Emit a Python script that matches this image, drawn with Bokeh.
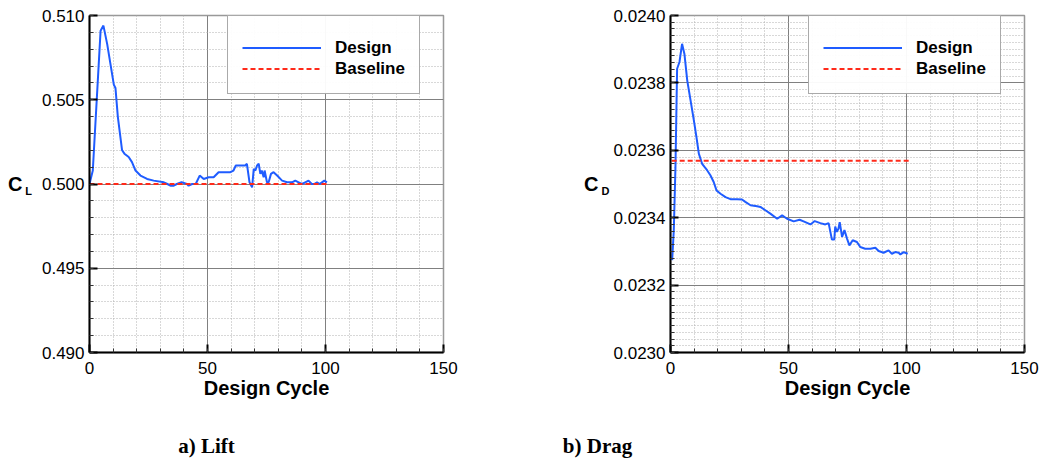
from bokeh.plotting import figure
from bokeh.models import (Range1d, FixedTicker, NumeralTickFormatter, Legend, LegendItem,
                          LinearAxis)
from bokeh.core.properties import value
from bokeh.layouts import row, column
from bokeh.embed import file_html
from bokeh.resources import INLINE

# ---------------- data ----------------
x_ticks = [0, 50, 100, 150]
x_minor = list(range(0, 151, 10))

lift_cycle = [0, 1.4, 4.7, 5.9, 7.5, 10.3, 11, 12, 13.8, 14.8, 16.6, 18, 19.5, 21.6, 24.4,
              27.2, 31.5, 33, 34.3, 35.7, 37, 39, 41.3, 42, 43.5, 45, 46.7, 48.4, 50.5,
              52.6, 54.7, 56.9, 59.7, 61, 62, 64, 66, 66.7, 67.8, 68.9, 69.6, 70.3, 71,
              71.7, 72.4, 73, 73.8, 74.2, 75.2, 75.9, 76.9, 78, 79.5, 81.6, 83.7, 85.8,
              87.2, 88.6, 90, 91.4, 92.8, 94.2, 95.2, 96.4, 97.5, 98.5, 99.5, 100.6]
cl_design = [0.5000, 0.5008, 0.5091, 0.5094, 0.5083, 0.5059, 0.5057, 0.5040, 0.5020, 0.5018,
             0.5016, 0.5013, 0.5008, 0.5005, 0.5003, 0.5002, 0.5001, 0.5000, 0.4999, 0.4999,
             0.5000, 0.5001, 0.5000, 0.4999, 0.5000, 0.5000, 0.5005, 0.5003, 0.5004, 0.5004,
             0.5007, 0.5007, 0.5007, 0.5008, 0.5011, 0.5011, 0.5011, 0.5012, 0.5001, 0.4998,
             0.5009, 0.5008, 0.5011, 0.5012, 0.5006, 0.5008, 0.5004, 0.5008, 0.5001, 0.5001,
             0.5006, 0.5007, 0.5005, 0.5002, 0.5001, 0.5001, 0.5002, 0.5001, 0.5000, 0.5001,
             0.5002, 0.5000, 0.5000, 0.5001, 0.5000, 0.5001, 0.5002, 0.5001]
cl_base_cycle = [0, 101]
cl_baseline = [0.5000, 0.5000]
cl_ticks = [0.490, 0.495, 0.500, 0.505, 0.510]
cl_minor = [0.490, 0.491, 0.492, 0.493, 0.494, 0.495, 0.496, 0.497, 0.498, 0.499, 0.500,
            0.501, 0.502, 0.503, 0.504, 0.505, 0.506, 0.507, 0.508, 0.509, 0.510]

drag_cycle = [0.7, 1.4, 2.1, 2.8, 3.8, 4.9, 5.9, 7.1, 8.5, 9.9, 11, 12, 13.4, 14.5, 15.5,
              16.9, 18.3, 19.5, 21.2, 23.3, 25.4, 28.2, 30.3, 31.7, 33.9, 36.7, 38.1, 40.2,
              42.3, 45.2, 47.3, 49.4, 52.2, 54.7, 56.4, 59.3, 61.1, 63.5, 65.6, 67, 68.4,
              69.4, 69.8, 70.5, 71.2, 71.7, 72.7, 73.7, 74.8, 75.8, 77.2, 79, 80.4, 82.5,
              84.7, 86.8, 88.2, 90.3, 92.4, 93.8, 95.2, 96.7, 97.4, 98.8, 100.5]
cd_design = [0.023274, 0.023363, 0.023550, 0.023842, 0.023862, 0.023916, 0.023886, 0.023807,
             0.023748, 0.023689, 0.023639, 0.023590, 0.023560, 0.023550, 0.023541, 0.023526,
             0.023506, 0.023481, 0.023471, 0.023461, 0.023455, 0.023455, 0.023454, 0.023447,
             0.023437, 0.023434, 0.023432, 0.023422, 0.023412, 0.023397, 0.023407, 0.023397,
             0.023389, 0.023394, 0.023389, 0.023380, 0.023390, 0.023384, 0.023380, 0.023384,
             0.023335, 0.023335, 0.023374, 0.023358, 0.023368, 0.023387, 0.023343, 0.023363,
             0.023338, 0.023318, 0.023333, 0.023328, 0.023313, 0.023308, 0.023308, 0.023311,
             0.023301, 0.023296, 0.023303, 0.023293, 0.023298, 0.023296, 0.023291, 0.023298,
             0.023293]
cd_base_cycle = [0.5, 101]
cd_baseline = [0.023569, 0.023569]
cd_ticks = [0.0230, 0.0232, 0.0234, 0.0236, 0.0238, 0.0240]
cd_minor = [round(0.0230 + i * 0.00002, 6) for i in range(51)]

captions = ["a) Lift", "b) Drag"]

SANS = "Liberation Sans"
SERIF = "Liberation Serif"
BLUE = "#1f5cff"
RED = "#ff2a1a"

FRAME_W, FRAME_H = 354, 337
TOP, BOTTOM = 15, 73
CAP_H = 34


def make_plot(left, right, yr, yticks, yminor, fmt, sub, sub_standoff):
    p = figure(width=left + FRAME_W + right, height=TOP + FRAME_H + BOTTOM,
               output_backend="svg", toolbar_location=None,
               x_range=Range1d(0, 150), y_range=Range1d(*yr))
    p.min_border_left = left
    p.min_border_right = right
    p.min_border_top = TOP
    p.min_border_bottom = BOTTOM
    p.background_fill_color = "white"
    p.border_fill_color = "white"
    p.outline_line_color = "#999999"
    p.outline_line_width = 1.5

    p.xaxis.ticker = FixedTicker(ticks=x_ticks, minor_ticks=x_minor)
    p.yaxis.ticker = FixedTicker(ticks=yticks, minor_ticks=yminor)
    p.yaxis.formatter = NumeralTickFormatter(format=fmt)
    for ax in (p.xaxis, p.yaxis):
        ax.axis_line_color = "black"
        ax.axis_line_width = 2
        ax.major_tick_in = 8
        ax.major_tick_out = 0
        ax.minor_tick_in = 4
        ax.minor_tick_out = 0
        ax.major_tick_line_color = "black"
        ax.major_tick_line_width = 2
        ax.minor_tick_line_color = "#333333"
        ax.minor_tick_line_width = 1
        ax.major_label_text_font = SANS
        ax.major_label_text_font_size = "17px"
        ax.major_label_text_color = "black"
    p.yaxis.major_label_standoff = 5
    p.xaxis.major_label_standoff = 9
    p.xaxis.axis_label = "Design Cycle"
    p.xaxis.axis_label_text_font = SANS
    p.xaxis.axis_label_text_font_style = "bold"
    p.xaxis.axis_label_text_font_size = "20px"
    p.xaxis.axis_label_text_color = "black"
    p.xaxis.axis_label_standoff = 0

    # subscript part of the y title sits on the inner y axis (second line -> lowered)
    p.yaxis.axis_label = "\n" + sub
    p.yaxis.axis_label_orientation = "horizontal"
    p.yaxis.axis_label_text_font = SANS
    p.yaxis.axis_label_text_font_style = "bold"
    p.yaxis.axis_label_text_font_size = "11px"
    p.yaxis.axis_label_text_color = "black"
    p.yaxis.axis_label_standoff = sub_standoff

    # main "C" letter on an outer, otherwise empty axis
    outer = LinearAxis(ticker=FixedTicker(ticks=[]), axis_line_color=None,
                       major_tick_line_color=None, minor_tick_line_color=None,
                       major_tick_out=0, major_tick_in=0, minor_tick_out=0, minor_tick_in=0,
                       major_label_standoff=0, axis_label="C",
                       axis_label_orientation="horizontal", axis_label_standoff=0,
                       axis_label_text_font=SANS, axis_label_text_font_style="bold",
                       axis_label_text_font_size="20px", axis_label_text_color="black")
    p.add_layout(outer, "left")

    for g in (p.xgrid, p.ygrid):
        g.grid_line_color = "#808080"
        g.grid_line_width = 1
        g.minor_grid_line_color = "#b0b0b0"
        g.minor_grid_line_dash = "1 2"
        g.minor_grid_line_width = 1
    return p


def add_legend(p, r1, r2):
    legend = Legend(items=[LegendItem(label="Design", renderers=[r1]),
                           LegendItem(label="Baseline", renderers=[r2])],
                    location=(138, 258))
    legend.title = " "
    legend.title_text_font_size = "2px"
    legend.title_standoff = 5
    legend.glyph_width = 79
    legend.glyph_height = 21
    legend.label_height = 21
    legend.label_standoff = 14
    legend.padding = 14
    legend.spacing = 0
    legend.margin = 0
    legend.border_line_color = "#555555"
    legend.border_line_width = 1
    legend.label_text_font = SANS
    legend.label_text_font_style = "bold"
    legend.label_text_font_size = "17px"
    legend.label_text_color = "black"
    p.add_layout(legend)


def caption_fig(width, cx, text):
    c = figure(width=width, height=CAP_H, output_backend="svg", toolbar_location=None,
               x_range=Range1d(0, width), y_range=Range1d(0, CAP_H),
               x_axis_type=None, y_axis_type=None, min_border=0)
    c.outline_line_color = None
    c.grid.visible = False
    c.text(x=[cx], y=[CAP_H - 20], text=[text], text_font=value(SERIF),
           text_font_style="bold", text_font_size="21px", text_align="center",
           text_baseline="middle", text_color="black")
    return c


# ---------------- lift ----------------
p1 = make_plot(89, 117, (0.490, 0.510), cl_ticks, cl_minor, "0.000", "L", 7)
r1 = p1.line(lift_cycle, cl_design, line_color=BLUE, line_width=2)
r2 = p1.line(cl_base_cycle, cl_baseline, line_color=RED, line_width=2, line_dash="5 3")
add_legend(p1, r1, r2)

# ---------------- drag ----------------
p2 = make_plot(110, 17, (0.0230, 0.0240), cd_ticks, cd_minor, "0.0000", "D", 1)
r3 = p2.line(drag_cycle, cd_design, line_color=BLUE, line_width=2)
r4 = p2.line(cd_base_cycle, cd_baseline, line_color=RED, line_width=2, line_dash="5 3")
add_legend(p2, r3, r4)

c1 = caption_fig(560, 206, captions[0])
c2 = caption_fig(481, 37, captions[1])

layout = column(row(p1, p2), row(c1, c2))
open("out.html", "w").write(file_html(layout, INLINE))
